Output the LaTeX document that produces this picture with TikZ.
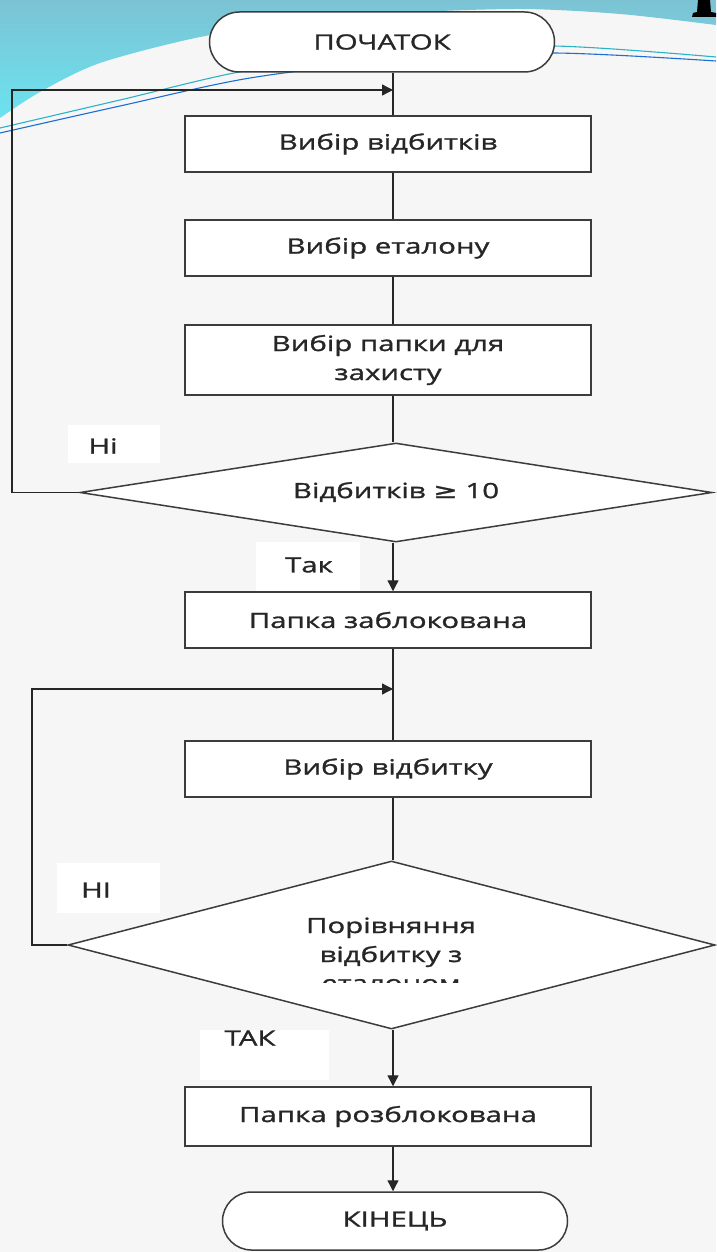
\documentclass[tikz,border=0pt]{standalone}
\usepackage{fontspec}
\setmainfont[FakeStretch=1.4,FakeBold=1.3]{Open Sans}
\newfontfamily\symf[FakeStretch=1.4,FakeBold=1.3]{DejaVu Sans}
\usetikzlibrary{shapes.geometric,shapes.misc,arrows.meta}
\definecolor{bgc}{HTML}{F6F6F6}
\definecolor{cyantop}{HTML}{7CC3D4}
\definecolor{cyanbot}{HTML}{6BE3F0}
\definecolor{linec}{HTML}{3C3C3C}
\definecolor{tealline}{HTML}{2AB3C6}
\definecolor{blueline}{HTML}{1C6ED2}
\definecolor{txtc}{HTML}{262626}
\newcommand{\fs}{\fontsize{21}{29}\selectfont}
\begin{document}
\begin{tikzpicture}[x=1pt,y=-1pt,
  boxn/.style={draw=linec, line width=1.5pt, fill=white, minimum width=406pt, minimum height=56pt, inner sep=0pt, font=\fs, text=txtc, align=center},
  termn/.style={rounded rectangle, draw=linec, line width=1.5pt, fill=white, minimum width=345pt, minimum height=60pt, inner sep=0pt, font=\fs, text=txtc},
  decn/.style={diamond, draw=linec, line width=1.5pt, fill=white, inner sep=0pt},
  labn/.style={inner sep=0pt, font=\fs, text=txtc},
  txtn/.style={inner sep=0pt, font=\fs, text=txtc, anchor=base},
  labbg/.style={fill=white},
  conn/.style={draw=black!85, line width=1.3pt},
  arr/.style={conn, -{Triangle[width=11pt,length=11pt]}}
]
% background
\useasboundingbox (0,0) rectangle (716,1252);
\fill[bgc] (0,0) rectangle (716,1252);
\shade[top color=cyantop, bottom color=cyanbot]
  (0,0) -- (716,0)
  -- plot[smooth] coordinates {(716,25) (620,14) (520,9) (400,13) (300,22) (200,37) (100,63) (40,92) (0,118)}
  -- cycle;
\draw[tealline, line width=1.1pt] plot[smooth] coordinates {(0,128) (120,100) (250,70) (400,53) (553,46) (716,57)};
\draw[blueline, line width=1.1pt] plot[smooth] coordinates {(0,133) (120,106) (250,78) (400,60) (553,53) (716,61)};
\fill[black] (692,17) -- (716,17) -- (716,13) -- (711,12) -- (710,0) -- (698,0) -- (697,12) -- (693,13) -- cycle;

\coordinate (ax) at (393,0);

% nodes
\node[termn] (start) at (382,42) {ПОЧАТОК};
\node[boxn] (b1) at (388,144) {Вибір відбитків};
\node[boxn] (b2) at (388,248) {Вибір еталону};
\node[boxn, minimum height=70pt] (b3) at (388,360) {Вибір папки для\\захисту};
\node[decn, minimum width=632pt, minimum height=99pt] (d1) at (396,492.5) {};
\node[labn] (d1t) at (396,492) {Відбитків {\symf ≥} 10};
\node[boxn] (b4) at (388,620) {Папка заблокована};
\node[boxn] (b5) at (388,769) {Вибір відбитку};
\node[decn, minimum width=647pt, minimum height=168pt] (d2) at (391.5,945) {};
\node[txtn] (d2a) at (391,933) {Порівняння};
\node[txtn] (d2b) at (391,962) {відбитку з};
\begin{scope}
  \clip (0,0) rectangle (716,982);
  \node[txtn] (d2c) at (391,990.5) {еталоном};
\end{scope}
\node[boxn, minimum height=59pt] (b6) at (388,1116.5) {Папка розблокована};
\node[termn, minimum height=58pt] (end) at (395,1221) {КІНЕЦЬ};

% labels
\fill[labbg] (68,425) rectangle (160,463);
\node[labn] (no1) at (103,446) {Ні};
\fill[labbg] (256,542) rectangle (360,591);
\node[labn] (yes1) at (309,565) {Так};
\fill[labbg] (57,863) rectangle (160,913);
\node[labn] (no2) at (96,890) {НІ};
\fill[labbg] (200,1030) rectangle (329,1080);
\node[labn] (yes2) at (250,1038) {ТАК};

% connectors
\coordinate (j1) at (393,90);
\coordinate (l1) at (12,90);
\coordinate (j2) at (393,689);
\coordinate (l2) at (32,689);
\draw[conn] (start.south -| ax) -- (b1.north -| ax);
\draw[conn] (b1.south -| ax) -- (b2.north -| ax);
\draw[conn] (b2.south -| ax) -- (b3.north -| ax);
\draw[conn] (b3.south -| ax) -- (d1.north -| ax);
\draw[arr] (d1.south -| ax) -- (b4.north -| ax);
\draw[conn] (b4.south -| ax) -- (b5.north -| ax);
\draw[conn] (b5.south -| ax) -- (d2.north -| ax);
\draw[arr] (d2.south -| ax) -- (b6.north -| ax);
\draw[arr] (b6.south -| ax) -- (end.north -| ax);
\draw[arr] (d1.west) -| (l1) -- (j1);
\draw[arr] (d2.west) -| (l2) -- (j2);
\end{tikzpicture}
\end{document}
